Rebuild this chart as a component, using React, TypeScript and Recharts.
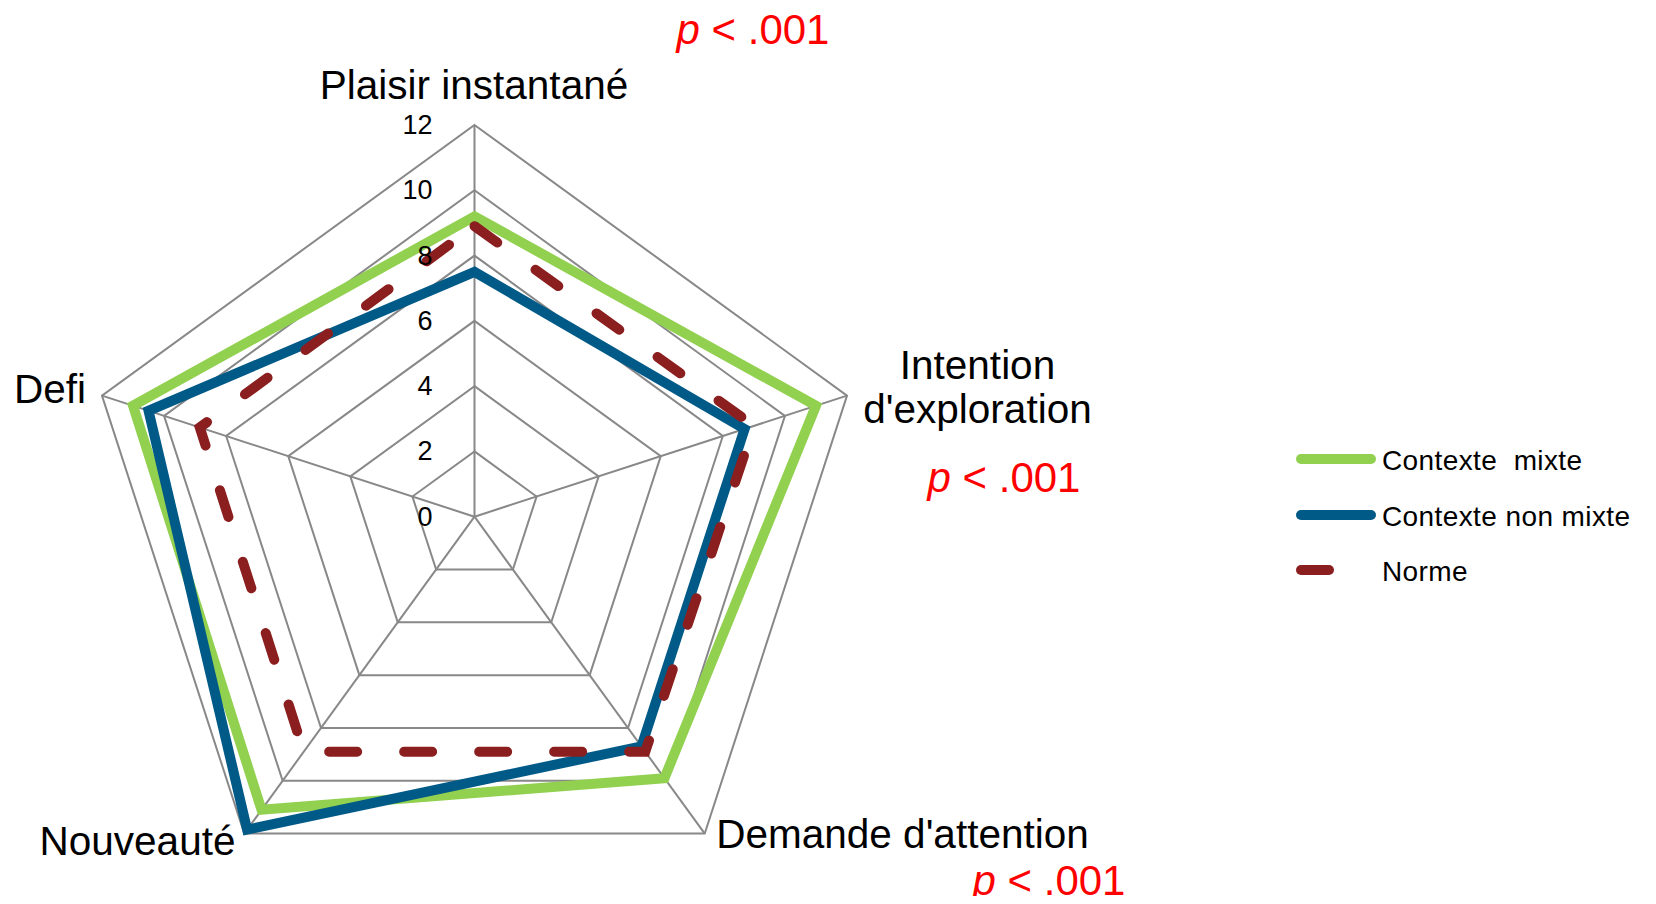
import React from 'react'
import {
  RadarChart,
  Radar,
  PolarGrid,
  PolarAngleAxis,
  PolarRadiusAxis,
  Legend,
} from 'recharts'

// Axes of the radar, clockwise from the top
const categories = [
  'Plaisir instantané',
  "Intention d'exploration",
  "Demande d'attention",
  'Nouveauté',
  'Defi',
]

const mixte = [9.2, 11.0, 9.9, 11.1, 11.0]
const nonMixte = [7.5, 8.7, 8.7, 11.85, 10.5]
const norme = [8.9, 9.0, 8.9, 8.9, 8.85]

// significance shown next to some axis labels (null = none)
const pValues = ['.001', '.001', '.001', null, null]

const radiusTicks = [0, 2, 4, 6, 8, 10, 12]

const FONT = '"Liberation Sans", Arial, sans-serif'
const W = 1656
const H = 904
const CX = 474.5
const CY = 516.7
const R = 391.7

const series = [
  { key: 'mixte', name: 'Contexte  mixte', color: '#92D050', dash: undefined },
  { key: 'nonMixte', name: 'Contexte non mixte', color: '#005A87', dash: undefined },
  { key: 'norme', name: 'Norme', color: '#8B1E1E', dash: '28 47' },
]

const data = categories.map((c, i) => ({
  axis: c,
  mixte: mixte[i],
  nonMixte: nonMixte[i],
  norme: norme[i],
}))

// where each axis label (and its p-value) sits, in svg px
const labelLayout = [
  { lines: ['Plaisir instantané'], x: 474, y: 99, anchor: 'middle', px: 753, py: 44 },
  { lines: ['Intention', "d'exploration"], x: 977.5, y: 379, anchor: 'middle', px: 1004, py: 492 },
  { lines: ["Demande d'attention"], x: 902.5, y: 848, anchor: 'middle', px: 1049, py: 895 },
  { lines: ['Nouveauté'], x: 137.5, y: 855, anchor: 'middle', px: 0, py: 0 },
  { lines: ['Defi'], x: 86, y: 403, anchor: 'end', px: 0, py: 0 },
]

function AngleTick(props: any) {
  const i = categories.indexOf(props.payload.value)
  const l = labelLayout[i]
  if (!l) return null
  const p = pValues[i]
  return (
    <g>
      <text x={l.x} y={l.y} textAnchor={l.anchor} fontSize={40.5} fontFamily={FONT} fill="#000">
        {l.lines.map((t, k) => (
          <tspan key={k} x={l.x} dy={k === 0 ? 0 : 44}>
            {t}
          </tspan>
        ))}
      </text>
      {p && (
        <text x={l.px} y={l.py} textAnchor="middle" fontSize={42} fontFamily={FONT} fill="#FF0000">
          <tspan fontStyle="italic">p</tspan> &lt; {p}
        </text>
      )}
    </g>
  )
}

function RadiusTick(props: any) {
  const { x, y, payload } = props
  return (
    <text x={x - 42} y={y} textAnchor="end" dominantBaseline="central" fontSize={27} fontFamily={FONT} fill="#000">
      {payload.value}
    </text>
  )
}

function LegendContent() {
  return (
    <div style={{ fontFamily: FONT, fontSize: 28, color: '#000', letterSpacing: 0.4 }}>
      {series.map((s) => (
        <div key={s.key} style={{ display: 'flex', alignItems: 'center', height: 55.7 }}>
          <svg width={86} height={20} style={{ flex: 'none' }}>
            <line
              x1={5}
              x2={75}
              y1={10}
              y2={10}
              stroke={s.color}
              strokeWidth={10}
              strokeLinecap="round"
              strokeDasharray={s.dash}
            />
          </svg>
          <span style={{ whiteSpace: 'pre', position: 'relative', top: 2 }}>{s.name}</span>
        </div>
      ))}
    </div>
  )
}

export default function App() {
  // cancel the default body margin so the svg fills the page
  return (
    <div style={{ width: W, height: H, margin: -8, overflow: 'hidden' }}>
      <RadarChart
        width={W}
        height={H}
        data={data}
        cx={CX}
        cy={CY}
        outerRadius={R}
        startAngle={90}
        endAngle={-270}
        margin={{ top: 0, right: 0, bottom: 0, left: 0 }}
      >
        <PolarGrid gridType="polygon" stroke="#888888" strokeWidth={2} />
        <PolarAngleAxis dataKey="axis" tick={AngleTick} tickLine={false} axisLine={false} />
        <PolarRadiusAxis
          angle={90}
          domain={[0, 12]}
          ticks={radiusTicks}
          tick={RadiusTick}
          tickLine={false}
          axisLine={false}
        />
        {series.map((s) => (
          <Radar
            key={s.key}
            name={s.name}
            dataKey={s.key}
            stroke={s.color}
            strokeWidth={10}
            strokeDasharray={s.dash}
            strokeLinecap={s.dash ? 'round' : 'butt'}
            fill="none"
            fillOpacity={0}
            dot={false}
            isAnimationActive={false}
          />
        ))}
        <Legend
          content={LegendContent}
          layout="vertical"
          align="right"
          verticalAlign="top"
          wrapperStyle={{ left: 1296, top: 431, width: 360 }}
        />
      </RadarChart>
    </div>
  )
}
